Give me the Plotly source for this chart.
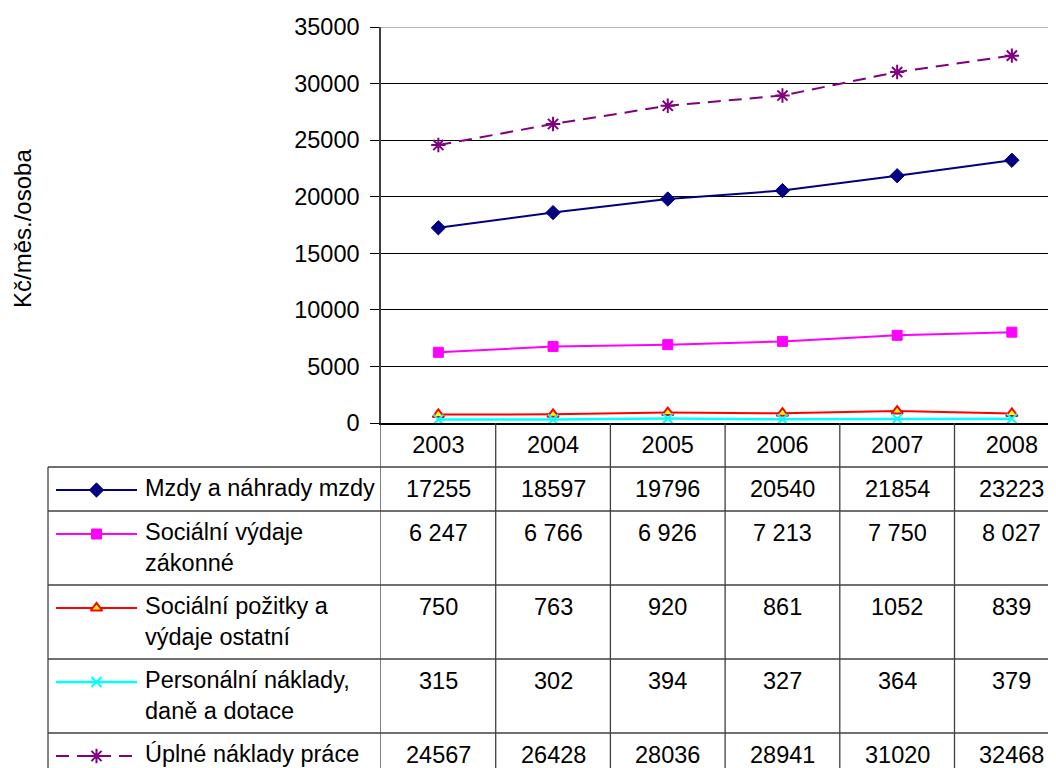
import plotly.graph_objects as go

# ---------------- data ----------------
years = ["2003", "2004", "2005", "2006", "2007", "2008"]
mzdy = [17255, 18597, 19796, 20540, 21854, 23223]
socialni_vydaje = [6247, 6766, 6926, 7213, 7750, 8027]
socialni_pozitky = [750, 763, 920, 861, 1052, 839]
personalni_naklady = [315, 302, 394, 327, 364, 379]
uplne_naklady = [24567, 26428, 28036, 28941, 31020, 32468]

series_labels = [
    "Mzdy a náhrady mzdy",
    "Sociální výdaje<br>zákonné",
    "Sociální požitky a<br>výdaje ostatní",
    "Personální náklady,<br>daně a dotace",
    "Úplné náklady práce",
]
y_tick_values = [0, 5000, 10000, 15000, 20000, 25000, 30000, 35000]
y_title = "Kč/měs./osoba"

series_values = [mzdy, socialni_vydaje, socialni_pozitky, personalni_naklady, uplne_naklady]
space_thousands = [False, True, False, False, False]

# ---------------- styles ----------------
styles = [
    dict(line=dict(color="#000080", width=2),
         marker=dict(symbol="diamond", size=11, color="#000080", line=dict(color="#000080", width=1))),
    dict(line=dict(color="#FF00FF", width=2),
         marker=dict(symbol="square", size=10, color="#FF00FF", line=dict(color="#FF00FF", width=1))),
    dict(line=dict(color="#FF0000", width=2),
         marker=dict(symbol="triangle-up", size=10, color="#FFFF00", line=dict(color="#FF0000", width=2))),
    dict(line=dict(color="#00FFFF", width=2.5),
         marker=dict(symbol="x-thin-open", size=10, color="#00FFFF", line=dict(color="#00FFFF", width=2))),
    dict(line=dict(color="#800080", width=2, dash="13px,8px"),
         marker=dict(symbol="asterisk-open", size=12, color="#800080", line=dict(color="#800080", width=2))),
]

# The page body has an 8px margin, so the figure is drawn 8px right/down.
OFF = 8
W, H = 1056 - OFF, 768 - OFF
FONT = "Liberation Sans, Arial, sans-serif"
FS = 23.5
GRID = "#000000"
TABLE_LINE = "#404040"

# positions in screen pixels, converted to figure pixels
PLOT_LEFT, PLOT_TOP, PLOT_BOTTOM = 381 - OFF, 27 - OFF, 423 - OFF
TABLE_LEFT = 48 - OFF
HEADER_TOP = 423 - OFF
TABLE_TOP = 467 - OFF
LINE_X0, LINE_X1, MARK_X, TEXT_X = 56 - OFF, 137 - OFF, 96.5 - OFF, 143 - OFF
TITLE_X, TITLE_Y = 23 - OFF, 229 - OFF
CAT_WIDTH = 114.7
row_lines = [1, 2, 2, 2, 1]

fig = go.Figure()

# main plot lines
for name, vals, st in zip(series_labels, series_values, styles):
    fig.add_trace(go.Scatter(
        x=years, y=vals, mode="lines+markers", name=name.replace("<br>", " "),
        line=st["line"], marker=st["marker"], showlegend=False,
        xaxis="x", yaxis="y", cliponaxis=False,
    ))

# table rows geometry (pixel units on the helper axes)
row_tops = []
t = TABLE_TOP
for n in row_lines:
    row_tops.append(t)
    t += 14 + 30 * n
row_tops.append(t)

shapes = []
annotations = []

for i, (label, vals, st) in enumerate(zip(series_labels, series_values, styles)):
    top = row_tops[i]
    yc = top + 23
    # legend sample
    fig.add_trace(go.Scatter(
        x=[LINE_X0, LINE_X1], y=[yc, yc], mode="lines", line=st["line"],
        showlegend=False, hoverinfo="skip", xaxis="x2", yaxis="y2", cliponaxis=False,
    ))
    fig.add_trace(go.Scatter(
        x=[MARK_X], y=[yc], mode="markers", marker=st["marker"],
        showlegend=False, hoverinfo="skip", xaxis="x2", yaxis="y2", cliponaxis=False,
    ))
    # label text
    annotations.append(dict(
        x=TEXT_X, y=top + 6, xref="x2", yref="y2", text=label, showarrow=False,
        xanchor="left", yanchor="top", align="left",
        font=dict(family=FONT, size=FS, color="black"),
    ))
    # values (x given as category index)
    for k, v in enumerate(vals):
        txt = f"{v:,}".replace(",", " ") if space_thousands[i] else str(v)
        annotations.append(dict(
            x=k, y=yc - 1, xref="x", yref="y2", text=txt, showarrow=False,
            xanchor="center", yanchor="middle",
            font=dict(family=FONT, size=FS, color="black"),
        ))

# horizontal table lines
for y in row_tops:
    shapes.append(dict(type="line", xref="paper", yref="y2", x0=TABLE_LEFT / W, x1=1,
                       y0=y, y1=y, line=dict(color=TABLE_LINE, width=1.3)))
# vertical table lines
shapes.append(dict(type="line", xref="x2", yref="y2", x0=TABLE_LEFT, x1=TABLE_LEFT,
                   y0=TABLE_TOP, y1=H + 20, line=dict(color=TABLE_LINE, width=1.3)))
shapes.append(dict(type="line", xref="x2", yref="y2", x0=PLOT_LEFT, x1=PLOT_LEFT,
                   y0=HEADER_TOP, y1=H + 20, line=dict(color=TABLE_LINE, width=1.3)))
for k in range(len(years) - 1):
    shapes.append(dict(type="line", xref="x", yref="y2", x0=k + 0.5, x1=k + 0.5,
                       y0=HEADER_TOP, y1=H + 20, line=dict(color=TABLE_LINE, width=1.3)))
# gray top border of plot area
shapes.append(dict(type="line", xref="paper", yref="y", x0=PLOT_LEFT / W, x1=1,
                   y0=y_tick_values[-1], y1=y_tick_values[-1], line=dict(color="#9a9a9a", width=1.5)))

# y title
annotations.append(dict(
    x=TITLE_X / W, y=1 - TITLE_Y / H, xref="paper", yref="paper", text=y_title, showarrow=False,
    textangle=-90, xanchor="center", yanchor="middle",
    font=dict(family=FONT, size=24, color="black"),
))

n_visible = (W - PLOT_LEFT) / CAT_WIDTH

fig.update_layout(
    template="none",
    width=W, height=H, autosize=False,
    margin=dict(l=0, r=0, t=0, b=0, pad=0),
    paper_bgcolor="white", plot_bgcolor="white",
    font=dict(family=FONT, size=FS, color="black"),
    showlegend=False,
    xaxis=dict(
        domain=[PLOT_LEFT / W, 1], type="category", range=[-0.5, -0.5 + n_visible],
        showgrid=False, zeroline=False, showline=True, linecolor="black", linewidth=1.5,
        ticks="", ticklabelstandoff=0, tickfont=dict(family=FONT, size=FS, color="black"),
        anchor="y", fixedrange=True, automargin=False,
    ),
    yaxis=dict(
        domain=[1 - PLOT_BOTTOM / H, 1 - PLOT_TOP / H], range=[0, 35000],
        tickvals=y_tick_values, ticktext=[str(v) for v in y_tick_values],
        showgrid=True, gridcolor=GRID, gridwidth=1, zeroline=False,
        showline=True, linecolor="#404040", linewidth=1.5,
        ticks="outside", ticklen=9, tickcolor="black", tickwidth=1,
        ticklabelstandoff=6, tickfont=dict(family=FONT, size=FS, color="black"),
        anchor="x", fixedrange=True, automargin=False,
    ),
    xaxis2=dict(domain=[0, PLOT_LEFT / W], range=[0, PLOT_LEFT], visible=False,
                anchor="y2", fixedrange=True, automargin=False),
    yaxis2=dict(domain=[0, 1 - HEADER_TOP / H], range=[H, HEADER_TOP], visible=False,
                anchor="x2", fixedrange=True, automargin=False),
    shapes=shapes,
    annotations=annotations,
)

fig.write_html("out.html")
